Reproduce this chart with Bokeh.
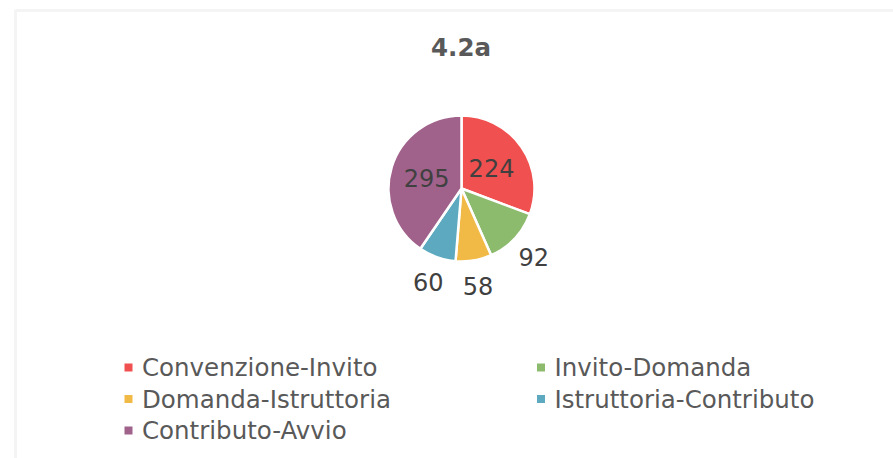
import math
from bokeh.plotting import figure
from bokeh.models import Range1d, BoxAnnotation, ColumnDataSource
from bokeh.core.properties import value
from bokeh.embed import file_html
from bokeh.resources import INLINE

# ---- data ----
title = "4.2a"
categories = ["Convenzione-Invito", "Invito-Domanda", "Domanda-Istruttoria",
              "Istruttoria-Contributo", "Contributo-Avvio"]
values = [224, 92, 58, 60, 295]
colors = ["#F0504F", "#8DBB6E", "#F1BA46", "#5CA9C0", "#A0628B"]

# ---- layout (pixel-like data space) ----
W, H = 893, 458
FONT = "DejaVu Sans"

p = figure(width=W, height=H, output_backend="svg", toolbar_location=None,
           x_range=Range1d(0, W), y_range=Range1d(0, H),
           min_border_left=0, min_border_right=0, min_border_top=0, min_border_bottom=0)
p.axis.visible = False
p.grid.visible = False
p.outline_line_color = None
p.background_fill_color = "white"
p.border_fill_color = "white"

# frame border (top and left visible, rest runs off the page)
p.add_layout(BoxAnnotation(left=15, top=H - 10, right=5000, bottom=-5000,
                           fill_alpha=0, line_color="#D9D9D9", line_width=3))

# title
p.text(x=[460.5], y=[H - 47], text=[title], text_align="center",
       text_baseline="middle", text_font=value(FONT), text_font_style="bold",
       text_font_size="24.5px", text_color="#595959")

# pie
cx, cy, r = 461, H - 188, 73
total = float(sum(values))
starts, ends, mids = [], [], []
acc = 0.0
for v in values:
    a0 = acc / total * 2 * math.pi
    acc += v
    a1 = acc / total * 2 * math.pi
    starts.append(math.pi / 2 - a1)
    ends.append(math.pi / 2 - a0)
    mids.append(math.pi / 2 - (a0 + a1) / 2)

src = ColumnDataSource(dict(start=starts, end=ends, color=colors, cat=categories))
p.wedge(x=cx, y=cy, radius=r, start_angle="start", end_angle="end",
        direction="anticlock", fill_color="color", line_color="white",
        line_width=2.5, source=src)

lx, ly = [], []
for v, m in zip(values, mids):
    f = 0.5 if v / total > 0.2 else 1.36
    lx.append(cx + f * r * math.cos(m))
    ly.append(cy + f * r * math.sin(m))
p.text(x=lx, y=ly, text=[str(v) for v in values], text_align="center",
       text_baseline="middle", text_font=value(FONT), text_font_size="24px",
       text_color="#404040")

# legend (two columns)
col_x = [128, 540.5]
row_y0, row_dy = H - 367, 31.5
mx, my, tx = [], [], []
for i in range(len(categories)):
    c, rr = i % 2, i // 2
    mx.append(col_x[c])
    my.append(row_y0 - rr * row_dy)
    tx.append(col_x[c] + 13.5)
p.scatter(x=mx, y=my, marker="square", size=8, fill_color=colors, line_color=None)
p.text(x=tx, y=my, text=categories, text_align="left", text_baseline="middle",
       text_font=value(FONT), text_font_size="24.5px", text_color="#595959")

open("out.html", "w").write(file_html(p, INLINE))
